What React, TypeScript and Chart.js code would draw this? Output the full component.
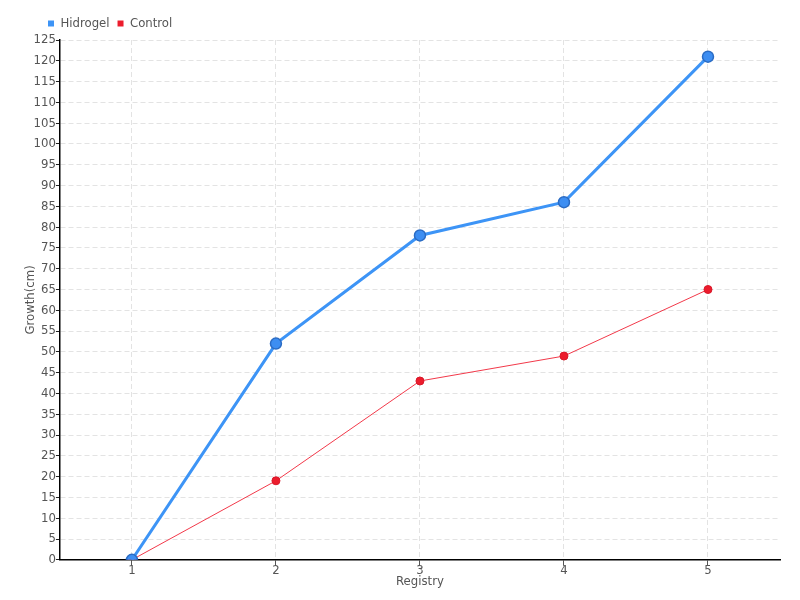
import React, { useEffect, useRef } from "react";
import { Chart, registerables } from "chart.js";

Chart.register(...registerables);

const categories = ["1", "2", "3", "4", "5"];
const hidrogel = [0, 52, 78, 86, 121];
const control = [0, 19, 43, 49, 65];

const FONT = "'DejaVu Sans Condensed', 'Liberation Sans Narrow', 'DejaVu Sans', sans-serif";
const SIZE = 13;

const legendShift = {
  id: "legendShift",
  afterLayout(chart: any) {
    if (chart.legend) {
      chart.legend.left += 22;
      chart.legend.right += 22;
    }
  },
};

export default function App() {
  const ref = useRef<HTMLCanvasElement | null>(null);
  useEffect(() => {
    document.body.style.margin = "0";
    const ctx = ref.current!;
    const chart = new Chart(ctx, {
      type: "line",
      plugins: [legendShift],
      data: {
        labels: categories,
        datasets: [
          {
            label: "Hidrogel",
            data: hidrogel,
            borderColor: "#3d94f6",
            backgroundColor: "#3d94f6",
            borderWidth: 3,
            pointRadius: 5.5,
            pointBackgroundColor: "#3d8ef2",
            pointBorderColor: "#2b6cc4",
            pointBorderWidth: 1.5,
            tension: 0,
          },
          {
            label: "Control",
            data: control,
            borderColor: "#f2394a",
            backgroundColor: "#ec1c2c",
            borderWidth: 1,
            pointRadius: 4,
            pointBackgroundColor: "#ec1c2c",
            pointBorderColor: "#d8182a",
            pointBorderWidth: 1,
            tension: 0,
          },
        ],
      },
      options: {
        animation: false,
        responsive: false,
        maintainAspectRatio: false,
        layout: { padding: { left: 18, right: 20, top: 9, bottom: 11 } },
        plugins: {
          legend: {
            position: "top",
            align: "start",
            labels: {
              boxWidth: 6,
              boxHeight: 6,
              padding: 8,
              color: "#555",
              font: { family: FONT, size: SIZE },
              generateLabels: (c: any) =>
                (Chart.defaults.plugins.legend.labels as any)
                  .generateLabels(c)
                  .map((l: any) => ({ ...l, lineWidth: 0, strokeStyle: "rgba(0,0,0,0)" })),
            },
          },
          tooltip: { enabled: false },
        },
        scales: {
          x: {
            offset: true,
            border: { display: true, color: "#000", width: 1.5, dash: [5, 3] },
            grid: {
              color: "#e3e3e3",
              tickColor: "#555",
              tickLength: 6,
              offset: false,
            },
            ticks: { color: "#555", font: { family: FONT, size: SIZE }, padding: -3 },
            title: {
              display: true,
              text: "Registry",
              color: "#555",
              font: { family: FONT, size: SIZE },
              padding: { top: -2, bottom: 0 },
            },
          },
          y: {
            min: 0,
            max: 125,
            border: { display: true, color: "#000", width: 1.5, dash: [5, 3] },
            grid: {
              color: "#e3e3e3",
              tickColor: "#222",
              tickLength: 4,
            },
            ticks: {
              stepSize: 5,
              color: "#555",
              font: { family: FONT, size: SIZE },
              padding: 0,
              autoSkip: false,
            },
            title: {
              display: true,
              text: "Growth(cm)",
              color: "#555",
              font: { family: FONT, size: SIZE },
              padding: { top: 5, bottom: -5 },
            },
          },
        },
      },
    });
    return () => chart.destroy();
  }, []);
  return (
    <div style={{ width: 800, height: 600 }}>
      <canvas ref={ref} width={800} height={600} />
    </div>
  );
}
